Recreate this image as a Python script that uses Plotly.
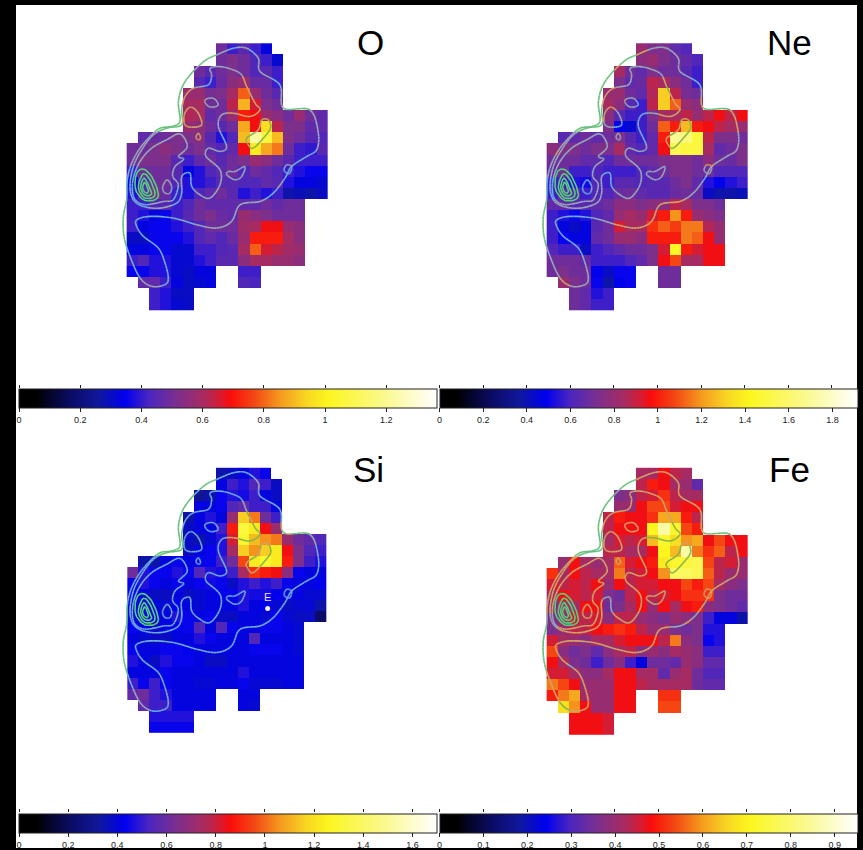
import plotly.graph_objects as go

W, H = 863, 850
FONT = "Liberation Sans"

# Cells present in each map row: (first column, last column) pairs
ROW_SPANS = [
    [(8, 12)], [(8, 13)], [(6, 13)], [(6, 13)], [(5, 13)], [(5, 13)], [(5, 17)], [(5, 17)],
    [(1, 17)], [(0, 17)], [(0, 17)], [(0, 17)], [(0, 17)], [(0, 17)],
    [(0, 15)], [(0, 15)], [(0, 15)], [(0, 15)], [(0, 15)], [(0, 15)],
    [(0, 7), (10, 11)], [(1, 7), (10, 11)], [(2, 5)], [(2, 5)],
]

# Per-cell readings, percent of each colour-scale maximum
O_PCT = [
    [36, 30, 33, 30, 24],
    [36, 38, 36, 32, 30, 23],
    [36, 33, 36, 38, 36, 32, 33, 30],
    [33, 30, 35, 40, 42, 35, 35, 30],
    [42, 42, 37, 38, 44, 58, 42, 36, 33],
    [44, 44, 36, 36, 46, 65, 48, 38, 36],
    [45, 44, 34, 36, 42, 52, 50, 42, 40, 36, 42, 36, 34],
    [42, 40, 36, 33, 36, 64, 50, 70, 46, 38, 38, 34, 34],
    [34, 35, 36, 38, 38, 40, 33, 28, 32, 66, 90, 78, 66, 38, 36, 33, 32],
    [36, 36, 38, 40, 38, 36, 38, 34, 32, 34, 50, 72, 64, 60, 36, 30, 29, 33],
    [36, 38, 38, 38, 33, 30, 34, 36, 33, 36, 38, 42, 40, 36, 33, 30, 30, 30],
    [30, 36, 36, 36, 33, 24, 28, 32, 34, 36, 32, 36, 34, 32, 30, 28, 26, 26],
    [24, 32, 36, 36, 32, 28, 28, 30, 33, 33, 32, 32, 34, 33, 28, 24, 24, 23],
    [28, 33, 38, 35, 30, 28, 32, 34, 36, 33, 28, 30, 28, 30, 20, 21, 20, 22],
    [30, 30, 32, 33, 30, 32, 36, 34, 34, 34, 34, 34, 36, 34, 36, 36],
    [30, 28, 24, 26, 30, 33, 36, 38, 35, 34, 42, 40, 38, 36, 36, 36],
    [30, 24, 26, 26, 28, 30, 32, 36, 36, 36, 43, 44, 50, 50, 42, 40],
    [22, 22, 26, 26, 26, 28, 32, 34, 32, 35, 42, 52, 52, 52, 44, 40],
    [24, 24, 26, 26, 23, 23, 30, 30, 32, 33, 44, 58, 48, 46, 43, 42],
    [30, 32, 28, 28, 23, 23, 28, 30, 33, 33, 40, 44, 44, 42, 42, 40],
    [26, 26, 28, 28, 23, 22, 24, 24, 30, 30],
    [34, 34, 30, 24, 22, 23, 24, 32, 31],
    [30, 28, 22, 22],
    [30, 28, 23, 22],
]
NE_PCT = [
    [42, 38, 38, 34, 32],
    [40, 42, 38, 36, 34, 32],
    [44, 36, 34, 38, 36, 36, 33, 30],
    [38, 34, 35, 46, 44, 40, 36, 30],
    [42, 42, 36, 34, 45, 68, 46, 37, 36],
    [44, 40, 33, 30, 46, 68, 58, 42, 40],
    [40, 33, 30, 30, 38, 44, 44, 46, 42, 46, 50, 46, 50],
    [38, 25, 23, 30, 36, 58, 52, 66, 52, 50, 46, 44, 42],
    [33, 34, 36, 34, 36, 38, 33, 30, 34, 52, 88, 85, 78, 46, 38, 38, 36],
    [40, 38, 38, 36, 38, 38, 44, 34, 32, 34, 50, 80, 78, 78, 44, 34, 36, 38],
    [36, 36, 36, 34, 34, 32, 36, 36, 36, 36, 38, 38, 38, 36, 40, 36, 35, 38],
    [34, 36, 30, 30, 32, 30, 30, 30, 32, 34, 36, 38, 38, 36, 36, 32, 32, 32],
    [30, 30, 28, 27, 32, 30, 33, 33, 32, 33, 33, 36, 38, 34, 28, 25, 28, 30],
    [30, 33, 33, 30, 32, 32, 35, 36, 34, 33, 33, 35, 36, 35, 22, 20, 20, 21],
    [34, 34, 33, 33, 34, 36, 40, 40, 38, 40, 40, 46, 44, 38, 38, 36],
    [30, 28, 26, 28, 32, 34, 42, 44, 42, 48, 52, 62, 52, 42, 40, 38],
    [30, 24, 22, 24, 33, 36, 48, 44, 44, 54, 58, 55, 60, 60, 45, 42],
    [30, 26, 24, 24, 34, 36, 42, 42, 40, 52, 52, 52, 60, 58, 50, 42],
    [32, 30, 30, 22, 30, 32, 34, 36, 36, 38, 48, 75, 52, 48, 50, 50],
    [36, 36, 36, 34, 30, 30, 30, 32, 34, 38, 50, 56, 44, 44, 50, 50],
    [36, 38, 36, 36, 25, 22, 26, 26, 36, 36],
    [42, 38, 36, 26, 20, 25, 26, 36, 36],
    [36, 34, 28, 30],
    [36, 34, 30, 30],
]
SI_PCT = [
    [20, 22, 24, 28, 26],
    [24, 30, 28, 32, 30, 22],
    [18, 20, 26, 28, 27, 30, 24, 22],
    [24, 24, 26, 32, 34, 30, 30, 24],
    [20, 24, 28, 24, 42, 68, 60, 36, 30],
    [22, 24, 24, 30, 52, 78, 72, 50, 42],
    [22, 20, 23, 28, 48, 76, 66, 62, 60, 42, 36, 34, 32],
    [22, 24, 26, 28, 44, 68, 62, 68, 72, 50, 38, 32, 30],
    [20, 20, 24, 26, 24, 26, 26, 30, 36, 56, 72, 76, 72, 52, 38, 30, 28],
    [36, 28, 26, 26, 28, 26, 32, 28, 27, 30, 44, 54, 52, 50, 40, 26, 24, 24],
    [26, 28, 26, 24, 26, 24, 26, 27, 26, 22, 28, 30, 28, 30, 26, 24, 24, 25],
    [26, 24, 22, 22, 24, 22, 23, 24, 25, 26, 28, 27, 27, 25, 24, 24, 23, 23],
    [24, 26, 24, 23, 25, 24, 23, 24, 24, 24, 28, 24, 25, 23, 22, 23, 23, 20],
    [24, 26, 26, 24, 28, 26, 24, 26, 22, 22, 24, 24, 23, 26, 23, 22, 22, 13],
    [26, 25, 22, 24, 25, 26, 32, 24, 32, 26, 24, 24, 26, 26, 24, 23],
    [24, 23, 22, 22, 24, 24, 28, 26, 24, 24, 24, 32, 24, 24, 24, 23],
    [26, 24, 24, 26, 26, 25, 24, 24, 24, 24, 24, 26, 26, 26, 24, 23],
    [28, 24, 22, 28, 26, 26, 24, 22, 22, 24, 24, 24, 24, 24, 24, 24],
    [24, 24, 24, 26, 24, 24, 24, 24, 24, 24, 28, 24, 24, 24, 24, 24],
    [30, 26, 30, 26, 24, 24, 23, 23, 24, 24, 26, 23, 23, 23, 24, 24],
    [34, 36, 30, 28, 24, 24, 24, 24, 24, 24],
    [34, 30, 30, 24, 24, 24, 24, 24, 23],
    [28, 28, 28, 28],
    [26, 26, 26, 26],
]
FE_PCT = [
    [44, 44, 50, 46, 44],
    [46, 52, 50, 44, 42, 34],
    [38, 40, 46, 48, 54, 46, 44, 44],
    [42, 42, 50, 56, 56, 48, 50, 50],
    [46, 52, 50, 50, 54, 64, 64, 52, 46],
    [46, 50, 50, 50, 74, 90, 76, 56, 52],
    [44, 48, 46, 48, 66, 76, 70, 62, 64, 50, 56, 50, 50],
    [46, 46, 44, 44, 50, 74, 66, 90, 60, 54, 58, 46, 50],
    [42, 50, 44, 42, 44, 58, 48, 50, 52, 72, 76, 78, 80, 56, 46, 48, 42],
    [54, 44, 50, 46, 44, 44, 60, 46, 48, 50, 62, 82, 82, 80, 58, 46, 42, 42],
    [48, 46, 48, 46, 50, 42, 50, 46, 48, 48, 50, 50, 56, 52, 56, 44, 40, 38],
    [44, 50, 48, 46, 48, 38, 36, 46, 50, 46, 48, 50, 54, 54, 54, 38, 36, 36],
    [40, 44, 44, 50, 50, 36, 38, 44, 50, 42, 50, 44, 50, 52, 40, 38, 36, 34],
    [38, 42, 48, 46, 48, 40, 46, 46, 42, 40, 38, 42, 40, 38, 30, 24, 24, 20],
    [38, 42, 46, 46, 50, 52, 54, 52, 46, 42, 42, 38, 36, 38, 28, 28],
    [48, 44, 42, 40, 44, 44, 48, 50, 50, 50, 46, 60, 40, 38, 26, 28],
    [56, 40, 36, 38, 34, 40, 44, 46, 40, 42, 40, 44, 42, 40, 30, 30],
    [50, 44, 38, 36, 30, 36, 40, 30, 24, 36, 36, 34, 42, 40, 34, 34],
    [48, 48, 44, 40, 40, 44, 50, 50, 44, 44, 34, 42, 44, 36, 32, 32],
    [60, 56, 50, 42, 42, 42, 50, 50, 46, 44, 44, 44, 44, 36, 34, 34],
    [52, 60, 64, 44, 42, 42, 50, 50, 54, 54],
    [70, 62, 50, 42, 42, 50, 50, 56, 56],
    [50, 50, 50, 48],
    [50, 50, 50, 48],
]

# Contour paths in map units (closed loops)
OUTER = [(320,75),(285,92),(240,135),(215,175),(205,220),(210,275),(185,290),(150,295),(120,320),(90,355),(65,400),(52,450),(50,510),(40,560),(42,620),(60,680),(90,745),(125,770),(165,765),(175,745),(165,700),(145,655),(100,620),(80,590),(80,570),(120,560),(190,565),(260,585),(320,595),(365,575),(390,525),(450,515),(490,490),(525,445),(545,410),(590,380),(620,360),(625,310),(600,240),(520,235),(510,165),(450,125),(445,85),(410,55),(370,55),(320,75)]
MIDDLE = [(215,285),(170,295),(130,315),(95,360),(70,410),(60,470),(70,510),(100,530),(150,535),(200,520),(215,490),(215,440),(240,430),(245,470),(270,495),(300,505),(330,465),(330,420),(288,380),(295,355),(330,365),(350,350),(325,290),(335,255),(370,250),(420,260),(450,240),(435,220),(410,170),(395,135),(370,120),(330,110),(300,115),(305,135),(295,165),(250,175),(225,200),(215,240),(215,285)]
INNER = [(210,312),(170,330),(125,355),(90,395),(70,445),(68,490),(80,515),(110,525),(160,515),(190,510),(205,465),(188,440),(195,410),(222,388),(205,380),(232,350),(210,312)]
ISLANDS = [
    [(285,210),(310,205),(325,225),(305,232),(290,225),(285,210)],
    [(230,240),(245,232),(265,250),(275,285),(245,292),(225,285),(222,260),(230,240)],
    [(265,310),(272,325),(265,330),(258,322),(265,310)],
    [(160,465),(172,450),(185,470),(180,490),(165,490),(158,478),(160,465)],
    [(355,425),(375,425),(405,410),(395,440),(375,450),(350,435),(355,425)],
    [(522,420),(530,405),(545,410),(540,430),(530,430),(522,420)],
    [(410,325),(445,300),(455,270),(475,270),(482,295),(460,325),(430,355),(415,345),(410,325)],
]
RINGS = [
    [(75,470),(80,430),(100,418),(125,440),(145,490),(135,510),(105,512),(85,495),(75,470)],
    [(85,470),(100,432),(120,450),(135,490),(125,505),(100,502),(85,470)],
    [(92,470),(102,445),(115,465),(125,490),(115,498),(100,492),(92,470)],
    [(98,470),(105,458),(115,480),(112,490),(102,485),(98,470)],
]

PANEL_NAMES = ["O", "Ne", "Si", "Fe"]
PANEL_PCT = [O_PCT, NE_PCT, SI_PCT, FE_PCT]
PANEL_MAX = [1.366, 1.915, 1.70, 0.952]
PANEL_TICKS = [
    [0, 0.2, 0.4, 0.6, 0.8, 1, 1.2],
    [0, 0.2, 0.4, 0.6, 0.8, 1, 1.2, 1.4, 1.6, 1.8],
    [0, 0.2, 0.4, 0.6, 0.8, 1, 1.2, 1.4, 1.6],
    [0, 0.1, 0.2, 0.3, 0.4, 0.5, 0.6, 0.7, 0.8, 0.9],
]
PANEL_TICKTEXT = [
    ["0", "0.2", "0.4", "0.6", "0.8", "1", "1.2"],
    ["0", "0.2", "0.4", "0.6", "0.8", "1", "1.2", "1.4", "1.6", "1.8"],
    ["0", "0.2", "0.4", "0.6", "0.8", "1", "1.2", "1.4", "1.6"],
    ["0", "0.1", "0.2", "0.3", "0.4", "0.5", "0.6", "0.7", "0.8", "0.9"],
]

# Layout, in page pixels
PANEL_ORIGIN = [(110, 30), (530, 30), (110, 455), (530, 455)]
PANEL_RECT = [(17, 5, 437, 386), (438, 5, 857, 386), (17, 430, 437, 812), (438, 430, 857, 812)]
GRID = [(50, 40, 33.5, 33.46), (50, 40, 33.5, 33.46), (52, 40, 33.2, 33.12), (50, 40, 33.5, 33.46)]
BAR_RECT = [(19, 389, 437, 407.5), (439.5, 389, 857, 407.5), (19, 814, 437, 833), (439.5, 814, 857, 833)]
LABEL_POS = [(370, 43), (789, 43), (368, 470), (789, 470)]

COLORSCALE = [
    [0.0, "#000000"], [0.04, "#000000"], [0.115, "#0a0a5c"], [0.19, "#10179c"], [0.254, "#0000f0"],
    [0.31, "#4a25c0"], [0.375, "#7a2f90"], [0.44, "#a62b62"], [0.48, "#d41c34"], [0.505, "#fa0c0c"],
    [0.565, "#f34a14"], [0.625, "#f59a1e"], [0.69, "#f8d823"], [0.74, "#fcf61e"], [0.87, "#faf98a"], [1.0, "#ffffff"],
]

LINE_CLASSES = {
    "outside": "#66bf7c",
    "low": "#70aee0",
    "mid": "#98a8b8",
    "warm": "#d0a468",
    "hot": "#84b347",
    "ring": "#55cf78",
}


def to_grid(pct):
    grid = []
    for spans, vals in zip(ROW_SPANS, pct):
        row = [None] * 18
        i = 0
        for a, b in spans:
            for c in range(a, b + 1):
                row[c] = vals[i]
                i += 1
        grid.append(row)
    return grid


def smooth(path, n=6):
    # closed Catmull-Rom curve through the traced points
    pts = list(path[:-1])
    m = len(pts)
    out = []
    for i in range(m):
        p0, p1, p2, p3 = pts[i - 1], pts[i], pts[(i + 1) % m], pts[(i + 2) % m]
        for s in range(n):
            t = s / n
            f = lambda a, b, c, d: 0.5 * (2 * b + (c - a) * t + (2 * a - 5 * b + 4 * c - d) * t ** 2 + (3 * b - a - 3 * c + d) * t ** 3)
            out.append((f(p0[0], p1[0], p2[0], p3[0]), f(p0[1], p1[1], p2[1], p3[1])))
    out.append(out[0])
    return out


def classify(grid, gridspec, x, y):
    x0, y0, dx, dy = gridspec
    c, r = int((x - x0) // dx), int((y - y0) // dy)
    if r < 0 or r >= 24 or c < 0 or c >= 18 or grid[r][c] is None:
        return "outside"
    v = grid[r][c]
    if v < 31:
        return "low"
    if v < 40:
        return "mid"
    if v < 66:
        return "warm"
    return "hot"


fig = go.Figure()
layout = dict()
annotations = []
for i, name in enumerate(PANEL_NAMES):
    ax = i + 1
    xa, ya = ("x" if i == 0 else f"x{ax}"), ("y" if i == 0 else f"y{ax}")
    px0, py0, px1, py1 = PANEL_RECT[i]
    ox, oy = PANEL_ORIGIN[i]
    gx, gy, dx, dy = GRID[i]
    grid = to_grid(PANEL_PCT[i])
    zmax = PANEL_MAX[i]
    z = [[None if v is None else v / 100 * zmax for v in row] for row in grid]
    bx0, by0, bx1, by1 = BAR_RECT[i]
    fig.add_trace(go.Heatmap(
        z=z, x0=gx + dx / 2, dx=dx, y0=gy + dy / 2, dy=dy, xaxis=xa, yaxis=ya,
        zmin=0, zmax=zmax, colorscale=COLORSCALE, hoverongaps=False, xgap=0, ygap=0,
        colorbar=dict(
            orientation="h", lenmode="pixels", len=bx1 - bx0, thicknessmode="pixels", thickness=by1 - by0,
            x=bx0 / W, xanchor="left", y=1 - by0 / H, yanchor="top", xpad=0, ypad=0,
            outlinecolor="#222222", outlinewidth=1, borderwidth=0, bgcolor="rgba(0,0,0,0)",
            tickmode="array", tickvals=PANEL_TICKS[i], ticktext=PANEL_TICKTEXT[i],
            ticks="outside", ticklen=4, tickwidth=1, tickcolor="#222222",
            tickfont=dict(family=FONT, size=9, color="#222222"),
        ),
    ))
    # contour lines, coloured by what they cross
    segs = {k: ([], []) for k in LINE_CLASSES}
    for path in [OUTER, MIDDLE, INNER] + ISLANDS:
        pts = smooth(path)
        for (x1, y1), (x2, y2) in zip(pts[:-1], pts[1:]):
            k = classify(grid, GRID[i], (x1 + x2) / 2, (y1 + y2) / 2)
            segs[k][0].extend([x1, x2, None])
            segs[k][1].extend([y1, y2, None])
    for path in RINGS:
        pts = smooth(path)
        segs["ring"][0].extend([p[0] for p in pts] + [None])
        segs["ring"][1].extend([p[1] for p in pts] + [None])
    for k, color in LINE_CLASSES.items():
        if segs[k][0]:
            fig.add_trace(go.Scatter(x=segs[k][0], y=segs[k][1], xaxis=xa, yaxis=ya, mode="lines",
                                     line=dict(color=color, width=1.6), hoverinfo="skip", showlegend=False))
    if name == "Si":
        fig.add_trace(go.Scatter(x=[473], y=[463], xaxis=xa, yaxis=ya, mode="markers",
                                 marker=dict(color="#f4eef6", size=5), hoverinfo="skip", showlegend=False))
        fig.add_trace(go.Scatter(x=[473], y=[431], xaxis=xa, yaxis=ya, mode="text", text=["E"],
                                 textfont=dict(family=FONT, size=11, color="#e8e0f0"),
                                 hoverinfo="skip", showlegend=False))
    base = dict(showgrid=False, zeroline=False, showticklabels=False, ticks="", showline=False)
    xname = "xaxis" if i == 0 else f"xaxis{ax}"
    yname = "yaxis" if i == 0 else f"yaxis{ax}"
    layout[xname] = dict(base, domain=[px0 / W, px1 / W], range=[(px0 - ox) * 3, (px1 - ox) * 3], anchor=ya)
    layout[yname] = dict(base, domain=[1 - py1 / H, 1 - py0 / H], range=[(py1 - oy) * 3, (py0 - oy) * 3], anchor=xa)
    # second set of ticks along the top of the bar
    tx, ty = f"xaxis{ax + 4}", f"yaxis{ax + 4}"
    fig.add_trace(go.Scatter(x=[0], y=[0.5], mode="markers", marker=dict(opacity=0), xaxis=f"x{ax + 4}",
                             yaxis=f"y{ax + 4}", hoverinfo="skip", showlegend=False))
    layout[tx] = dict(domain=[bx0 / W, bx1 / W], range=[0, zmax], anchor=f"y{ax + 4}", side="top",
                      showgrid=False, zeroline=False, showticklabels=False, ticks="outside", ticklen=3,
                      tickwidth=1, tickcolor="#222222", tickmode="array", tickvals=PANEL_TICKS[i], showline=False)
    layout[ty] = dict(domain=[1 - by1 / H, 1 - by0 / H], range=[0, 1], anchor=f"x{ax + 4}", visible=False)
    lx, ly = LABEL_POS[i]
    annotations.append(dict(text=name, x=lx / W, y=1 - ly / H, xref="paper", yref="paper", showarrow=False,
                            xanchor="center", yanchor="middle", font=dict(family=FONT, size=35, color="#000000")))

fig.update_layout(
    width=W, height=H, margin=dict(l=0, r=0, t=0, b=0), paper_bgcolor="#000000", plot_bgcolor="rgba(0,0,0,0)",
    showlegend=False, annotations=annotations,
    shapes=[dict(type="rect", xref="paper", yref="paper", x0=16 / W, x1=857 / W, y0=1 - 849 / H, y1=1 - 5 / H,
                 fillcolor="#ffffff", line=dict(width=0), layer="below")],
    **layout,
)
fig.write_html("out.html", config={"displayModeBar": False},
               post_script="document.body.style.margin='0';document.body.style.background='#000';")
